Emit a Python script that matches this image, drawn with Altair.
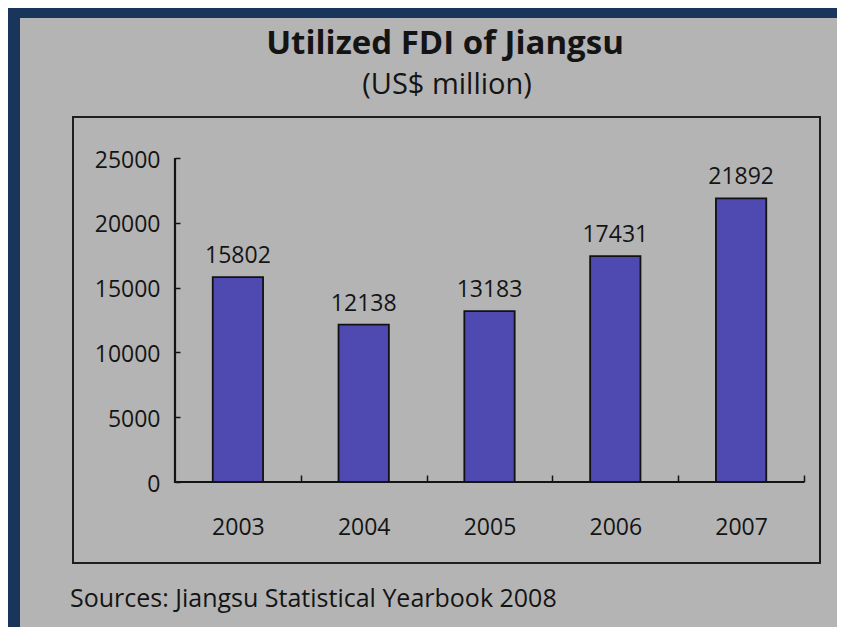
import altair as alt
import pandas as pd

years = ["2003", "2004", "2005", "2006", "2007"]
fdi = [15802, 12138, 13183, 17431, 21892]
y_ticks = [0, 5000, 10000, 15000, 20000, 25000]

title_text = "Utilized FDI of Jiangsu"
subtitle_text = "(US$ million)"
source_text = "Sources: Jiangsu Statistical Yearbook 2008"

FONT = "Open Sans"
INK = "#141414"
NAVY = "#1a355c"
GREY = "#b4b4b4"
BAR = "#4e4ab2"

W, H = 629, 324
STEP = W / 5.0

df = pd.DataFrame({"Year": years, "FDI": fdi})
one = pd.DataFrame({"k": [0]})

panel = alt.Chart(one).mark_rect(fill=GREY).encode(
    x=alt.value(-155), x2=alt.value(700), y=alt.value(-140), y2=alt.value(500)
)
frame = alt.Chart(one).mark_rect(fill=None, stroke="#1e1e1e", strokeWidth=2).encode(
    x=alt.value(-102), x2=alt.value(645), y=alt.value(-41), y2=alt.value(405)
)

x_enc = alt.X(
    "Year:O",
    sort=years,
    scale=alt.Scale(paddingInner=0.6, paddingOuter=0.3),
    axis=alt.Axis(
        title=None, domain=False, offset=-7, ticks=True, tickSize=7,
        tickColor=INK, tickWidth=1.5, bandPosition=1,
        tickOffset=0.3 * STEP, labelOffset=-0.3 * STEP,
        labelPadding=34, labelFont=FONT, labelFontSize=23, labelColor=INK,
        labelAngle=0, grid=False, zindex=2,
    ),
)
y_enc = alt.Y(
    "FDI:Q",
    scale=alt.Scale(domain=[0, 25000], nice=False),
    axis=alt.Axis(
        title=None, domain=False, offset=-5, values=y_ticks, tickSize=5,
        tickColor=INK, tickWidth=1.5, labelPadding=15, labelFont=FONT,
        labelFontSize=23, labelColor=INK, grid=False, labelBaseline="middle",
        labelOffset=2, zindex=2, format="d",
    ),
)

base = alt.Chart(df).encode(x=x_enc, y=y_enc)
bars = base.mark_bar(fill=BAR, stroke="#121212", strokeWidth=1.8)
labels = base.mark_text(
    dy=-14, baseline="alphabetic", font=FONT, fontSize=23, color=INK
).encode(text="FDI:Q")

yline = alt.Chart(one).mark_rule(color=INK, strokeWidth=2.2).encode(
    x=alt.value(0), y=alt.value(0), y2=alt.value(H + 1)
)
xline = alt.Chart(one).mark_rule(color=INK, strokeWidth=2.2).encode(
    x=alt.value(-1), x2=alt.value(W), y=alt.value(H)
)

title = alt.Chart(pd.DataFrame({"t": [title_text]})).mark_text(
    font=FONT, fontSize=33, fontWeight="bold", color=INK, align="center",
    baseline="alphabetic"
).encode(text="t:N", x=alt.value(270), y=alt.value(-104))
subtitle = alt.Chart(pd.DataFrame({"t": [subtitle_text]})).mark_text(
    font=FONT, fontSize=29, color=INK, align="center", baseline="alphabetic"
).encode(text="t:N", x=alt.value(272), y=alt.value(-64))
source = alt.Chart(pd.DataFrame({"t": [source_text]})).mark_text(
    font=FONT, fontSize=25, color=INK, align="left", baseline="alphabetic"
).encode(text="t:N", x=alt.value(-105), y=alt.value(449))

chart = alt.layer(
    panel, frame, bars, labels, yline, xline, title, subtitle, source
).properties(
    width=W, height=H,
    background=NAVY,
    padding={"left": 167, "top": 150, "right": 33, "bottom": 145},
    autosize=alt.AutoSizeParams(type="none"),
).configure_view(stroke=None)

chart.save("out.html", embed_options={"renderer": "svg", "actions": False})
